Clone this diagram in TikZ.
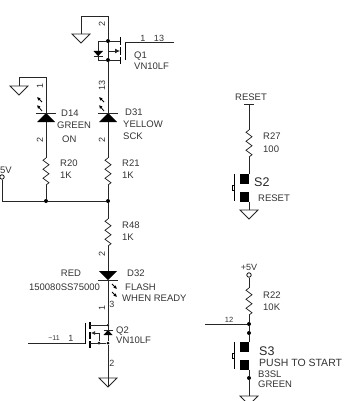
\documentclass[tikz,border=0pt]{standalone}
\usepackage{fontspec}
\setmainfont{Liberation Sans}
\usetikzlibrary{arrows.meta}

\tikzset{
  wire/.style={line width=0.75pt, black!85},
  lbl/.style={anchor=west, inner sep=0pt, text=black!80, font=\fontsize{9.5}{10}\selectfont},
  pin/.style={inner sep=0pt, text=black!80, font=\fontsize{9}{10}\selectfont},
  swlbl/.style={anchor=west, inner sep=0pt, text=black!85, font=\fontsize{12.5}{13}\selectfont},
  jn/.style={circle, fill=black, inner sep=0pt, minimum size=4pt},
  hole/.style={circle, draw, line width=0.75pt, fill=white, inner sep=0pt, minimum size=4.5pt},
  photo/.style={line width=0.8pt, -{Latex[length=3.5pt,width=3.5pt]}},
  pics/resistor/.style={code={
    \draw [wire] (0,0) -- ++(-3,2.25) -- ++(6,4.5) -- ++(-6,4.5) -- ++(6,4.5) -- ++(-6,4.5) -- ++(6,4.5) -- ++(-3,2.25);
    \coordinate (-t) at (0,0);
    \coordinate (-b) at (0,27);
  }},
  pics/ground/.style={code={
    \draw [wire] (-9,0) -- (9,0) -- (0,9) -- cycle;
    \coordinate (-t) at (0,0);
  }},
  pics/led/.style={code={
    \fill (-9,9) -- (9,9) -- (0,0) -- cycle;
    \draw [wire] (-10,0) -- (10,0);
    \coordinate (-k) at (0,0);
    \coordinate (-a) at (0,9);
  }},
  pics/leddown/.style={code={
    \fill (-9,0) -- (9,0) -- (0,9) -- cycle;
    \draw [wire] (-10,9) -- (10,9);
    \coordinate (-a) at (0,0);
    \coordinate (-k) at (0,9);
  }},
  pics/pushsw/.style={code={
    \fill (-9,0) rectangle (0,10);
    \fill (-9,18) rectangle (0,28);
    \draw [line width=1pt] (-15,0) -- (-15,27);
    \draw [line width=0.6pt] (-15,11) -- (-17,11) -- (-17,16) -- (-15,16);
    \coordinate (-t) at (0,0);
    \coordinate (-b) at (0,28);
  }},
}

\begin{document}
\begin{tikzpicture}[x=1pt, y=-1pt]
  \useasboundingbox (0,0) rectangle (349,401);

  % Q1
  \coordinate (gq1) at (81,16);
  \coordinate (tq1) at (108,16);
  \node (dq1) at (108,41) [jn] {};
  \node (sq1) at (108,60) [jn] {};
  \coordinate (gate1) at (125,42);
  \coordinate (gate1e) at (174,42);
  \pic (gnda) at (81,34) {ground};
  \draw [wire] (gq1) -- (gnda-t);
  \draw [wire] (gq1) -- (tq1) -- (dq1) -- (sq1);
  \draw [line width=1pt] (120,37) -- (120,45);
  \draw [line width=1pt] (120,47) -- (120,55);
  \draw [line width=1pt] (120,57) -- (120,64);
  \draw [line width=0.9pt] (125,42) -- (125,60);
  \draw [wire] (gate1) -- (gate1e);
  \draw [wire] (dq1) -- (120,41);
  \draw [wire] (sq1) -- (120,60);
  \draw [wire] (dq1) -- (98,41) -- (98,60) -- (sq1);
  \fill (93.5,51) -- (103,51) -- (98,56) -- cycle;
  \draw [wire] (93.5,56) -- (103,56);
  \draw [wire, -{Latex[length=5pt,width=5pt]}] (108,51) -- (120,51);
  \node (p2a) at (102,24) [pin, rotate=90] {2};
  \node (p1a) at (143,38) [pin] {1};
  \node (p13a) at (159,38) [pin] {13};
  \node (q1) at (134,56) [lbl] {Q1};
  \node (q1v) at (134,66) [lbl] {VN10LF};

  % D31 branch
  \pic (d31p) at (108,113) {led};
  \pic (r21) at (108,158) {resistor};
  \node (j2) at (108,201) [jn] {};
  \draw [wire] (sq1) -- (d31p-k);
  \draw [wire] (d31p-a) -- (r21-t);
  \draw [wire] (r21-b) -- (j2);
  \draw [photo] (104,102) -- (99,97);
  \draw [photo] (104,111) -- (99,105);
  \node (p13b) at (102,85) [pin, rotate=90] {13};
  \node (p2b) at (102,140) [pin, rotate=90] {2};
  \node (d31) at (125,112) [lbl] {D31};
  \node (yel) at (123,124) [lbl] {YELLOW};
  \node (sck) at (123,136) [lbl] {SCK};
  \node (r21l) at (122,163) [lbl] {R21};
  \node (r21v) at (122,175) [lbl] {1K};

  % D14 branch
  \coordinate (gd14) at (19,77);
  \coordinate (td14) at (46,77);
  \pic (gndb) at (19,86) {ground};
  \pic (d14p) at (46,113) {led};
  \pic (r20) at (46,158) {resistor};
  \node (j1) at (46,201) [jn] {};
  \draw [wire] (gndb-t) -- (gd14) -- (td14) -- (d14p-k);
  \draw [wire] (d14p-a) -- (r20-t);
  \draw [wire] (r20-b) -- (j1);
  \draw [photo] (42,102) -- (37,97);
  \draw [photo] (42,111) -- (37,105);
  \node (p1b) at (40,86) [pin, rotate=90] {1};
  \node (p2c) at (40,140) [pin, rotate=90] {2};
  \node (d14) at (61,113) [lbl] {D14};
  \node (grn) at (57,125) [lbl] {GREEN};
  \node (on) at (62,139) [lbl] {ON};
  \node (r20l) at (60,163) [lbl] {R20};
  \node (r20v) at (60,175) [lbl] {1K};

  % 5V rail
  \node (vcc) at (2,177) [hole] {};
  \coordinate (railc) at (2,201);
  \node (vccl) at (0,170) [lbl] {5V};
  \draw [wire] (vcc) -- (railc);
  \draw [wire, line width=0.9pt] (railc) -- (j1) -- (j2);

  % D32 and Q2
  \pic (r48) at (108,219) {resistor};
  \pic (d32p) at (108,271) {leddown};
  \node (dq2) at (108,325) [jn, minimum size=2.5pt] {};
  \node (sq2) at (108,343) [jn, minimum size=3pt] {};
  \node (bq2) at (99,343) [jn, minimum size=3pt] {};
  \coordinate (gate2) at (85,343);
  \coordinate (gate2w) at (28,343);
  \coordinate (gndend) at (108,387);
  \pic (gndc) at (108,378) {ground};
  \draw [wire] (j2) -- (r48-t);
  \draw [wire] (r48-b) -- (d32p-a);
  \draw [wire] (d32p-k) -- (dq2) -- (sq2) -- (gndend);
  \draw [line width=1.1pt] (90,322) -- (90,329);
  \draw [line width=1.1pt] (90,332) -- (90,339);
  \draw [line width=1.1pt] (90,341) -- (90,348);
  \draw [line width=0.9pt] (85,323) -- (85,344);
  \draw [wire] (gate2w) -- (gate2);
  \draw [wire] (dq2) -- (90,325);
  \draw [wire] (sq2) -- (90,343);
  \draw [wire, {Latex[length=4pt,width=4pt]}-] (91,333) -- (99,333) -- (bq2);
  \fill (103.5,335) -- (112.5,335) -- (108,330) -- cycle;
  \draw [wire] (103.5,330) -- (112.5,330);
  \draw [photo] (112,284) -- (117,289);
  \draw [photo] (112,292) -- (117,297);
  \node (p2d) at (102,254) [pin, rotate=90] {2};
  \node (p1c) at (102,308) [pin, rotate=90] {1};
  \node (p3) at (112,304) [pin] {3};
  \node (red) at (71,273) [lbl, anchor=center] {RED};
  \node (d32) at (127,273) [lbl] {D32};
  \node (partn) at (64.5,287) [lbl, anchor=center] {150080SS75000};
  \node (flash) at (125,287) [lbl] {FLASH};
  \node (ready) at (122,298) [lbl] {WHEN READY};
  \node (r48l) at (122,225) [lbl] {R48};
  \node (r48v) at (122,237) [lbl] {1K};
  \node (q2) at (116,331) [lbl] {Q2};
  \node (q2v) at (116,340) [lbl] {VN10LF};
  \node (p11) at (54,338) [pin, font=\fontsize{7}{8}\selectfont] {\textasciitilde 11};
  \node (p1d) at (71,338) [pin] {1};
  \node (p2e) at (112,363) [pin] {2};

  % S2
  \coordinate (rstbar) at (249,104);
  \pic (r27) at (249,130) {resistor};
  \pic (s2p) at (249,174) {pushsw};
  \pic (gndd) at (249,210) {ground};
  \draw [wire] (244,104) -- (254,104);
  \draw [wire] (rstbar) -- (r27-t);
  \draw [wire] (r27-b) -- (s2p-t);
  \draw [wire] (s2p-b) -- (gndd-t);
  \node (rst) at (251,97) [lbl, anchor=center] {RESET};
  \node (r27l) at (263,136) [lbl] {R27};
  \node (r27v) at (263,149) [lbl] {100};
  \node (s2) at (254,182) [swlbl] {S2};
  \node (s2r) at (258,198) [lbl] {RESET};

  % S3
  \node (vccb) at (249,275) [hole] {};
  \pic (r22) at (249,288) {resistor};
  \node (j3) at (249,324) [jn] {};
  \node (j4) at (249,333) [jn] {};
  \node (j5) at (249,378) [jn] {};
  \coordinate (net12) at (205,324);
  \pic (s3p) at (249,342) {pushsw};
  \pic (gnde) at (249,396) {ground};
  \draw [wire] (vccb) -- (r22-t);
  \draw [wire] (r22-b) -- (j3) -- (j4) -- (s3p-t);
  \draw [wire] (net12) -- (j3);
  \draw [wire] (s3p-b) -- (j5) -- (gnde-t);
  \node (vl) at (249,267) [pin, anchor=center] {+5V};
  \node (p12) at (229,320) [pin, font=\fontsize{7.5}{8}\selectfont] {12};
  \node (r22l) at (263,295) [lbl] {R22};
  \node (r22v) at (263,307) [lbl] {10K};
  \node (s3) at (259,351) [swlbl] {S3};
  \node (push) at (259,363) [lbl, font=\fontsize{10.5}{11}\selectfont] {PUSH TO START};
  \node (b3) at (258,374) [lbl] {B3SL};
  \node (grnb) at (258,384) [lbl] {GREEN};
\end{tikzpicture}
\end{document}
